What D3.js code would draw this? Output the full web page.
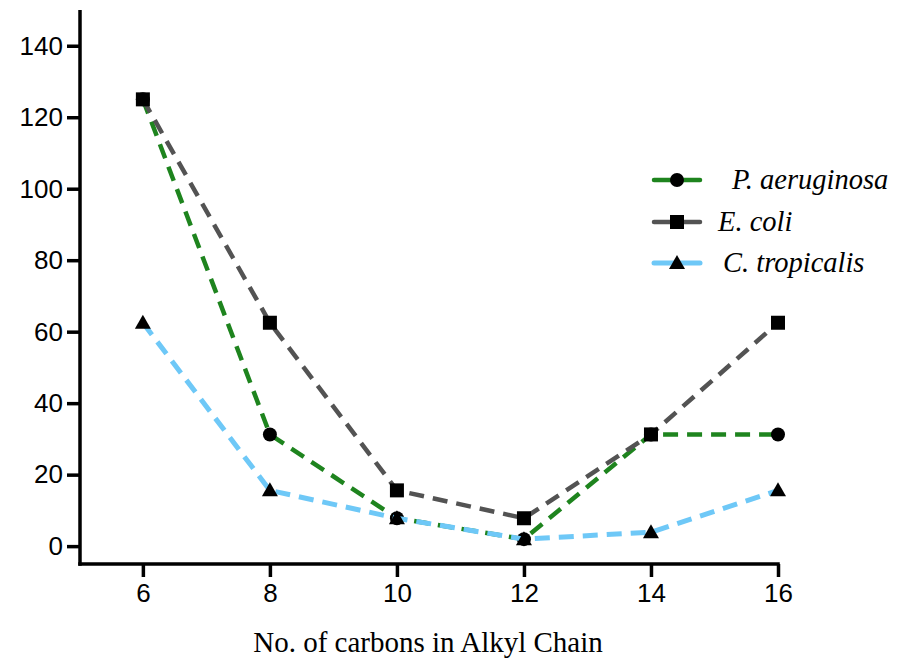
<!DOCTYPE html>
<html><head><meta charset="utf-8">
<script src="https://cdn.jsdelivr.net/npm/d3@7"></script>
<style>body{margin:0;background:#fff}</style>
</head><body>
<svg id="c" width="902" height="659"></svg>
<script>
const carbons = [6, 8, 10, 12, 14, 16];
const pAeruginosa = [125, 31.25, 7.8, 1.95, 31.25, 31.25];
const eColi = [125, 62.5, 15.6, 7.8, 31.25, 62.5];
const cTropicalis = [62.5, 15.6, 7.8, 1.95, 3.9, 15.6];
const yTicks = [0, 20, 40, 60, 80, 100, 120, 140];
const xTicks = [6, 8, 10, 12, 14, 16];
const seriesNames = ["P. aeruginosa", "E. coli", "C. tropicalis"];

const series = [
  {name: seriesNames[0], values: pAeruginosa, color: "#1e841e", marker: "circle", width: 4.5},
  {name: seriesNames[1], values: eColi, color: "#535353", marker: "square", width: 4.5},
  {name: seriesNames[2], values: cTropicalis, color: "#6ec8f7", marker: "triangle", width: 5}
];

const svg = d3.select("#c");
const x = d3.scaleLinear().domain([5.01, 16]).range([80, 778]);
const y = d3.scaleLinear().domain([-5, 150]).range([564, 10]);

const yAxis = svg.append("g").attr("transform", "translate(80,0)")
  .call(d3.axisLeft(y).tickValues(yTicks).tickSize(13).tickPadding(4).tickSizeOuter(0));
const xAxis = svg.append("g").attr("transform", "translate(0,564)")
  .call(d3.axisBottom(x).tickValues(xTicks).tickSize(13).tickPadding(7).tickSizeOuter(0));
[yAxis, xAxis].forEach(g => {
  g.select(".domain").attr("stroke", "#000").attr("stroke-width", 3.5);
  g.selectAll(".tick line").attr("stroke", "#000").attr("stroke-width", 3.5);
  g.selectAll(".tick text").attr("fill", "#000")
    .style("font-family", "Liberation Sans, Arial, sans-serif").style("font-size", "26px");
});
yAxis.select(".domain").attr("d", `M0,${y.range()[1]}V${564 + 1.75}`);
xAxis.select(".domain").attr("d", `M${80 - 1.75},0H${x(16) + 1.75}`);

svg.append("text").attr("x", 428).attr("y", 652).attr("text-anchor", "middle")
  .style("font-family", "Liberation Serif, Times New Roman, serif").style("font-size", "29px")
  .text("No. of carbons in Alkyl Chain");

const line = d3.line().x(d => x(d[0])).y(d => y(d[1]));

function drawMarker(g, type, cx, cy) {
  if (type === "circle") {
    g.append("circle").attr("cx", cx).attr("cy", cy).attr("r", 7).attr("fill", "#000");
  } else if (type === "square") {
    g.append("rect").attr("x", cx - 7).attr("y", cy - 7).attr("width", 14).attr("height", 14).attr("fill", "#000");
  } else {
    g.append("path").attr("d", `M${cx},${cy - 8}L${cx + 8},${cy + 6}L${cx - 8},${cy + 6}Z`).attr("fill", "#000");
  }
}

series.forEach(s => {
  const pts = carbons.map((c, i) => [c, s.values[i]]);
  const g = svg.append("g");
  g.append("path").attr("d", line(pts)).attr("fill", "none")
    .attr("stroke", s.color).attr("stroke-width", s.width)
    .attr("stroke-dasharray", "15,9");
  pts.forEach(p => drawMarker(g, s.marker, x(p[0]), y(p[1])));
});

const legY = [180, 222, 263];
const legTextX = [732, 718, 723];
series.forEach((s, i) => {
  const g = svg.append("g");
  g.append("line").attr("x1", 654).attr("x2", 700).attr("y1", legY[i]).attr("y2", legY[i])
    .attr("stroke", s.color).attr("stroke-width", s.width).attr("stroke-linecap", "round");
  drawMarker(g, s.marker, 677, legY[i]);
  g.append("text").attr("x", legTextX[i]).attr("y", legY[i] + 9)
    .style("font-family", "Liberation Serif, Times New Roman, serif").style("font-style", "italic")
    .style("font-size", "28.5px").attr("fill", "#000").text(s.name);
});
</script>
</body></html>
